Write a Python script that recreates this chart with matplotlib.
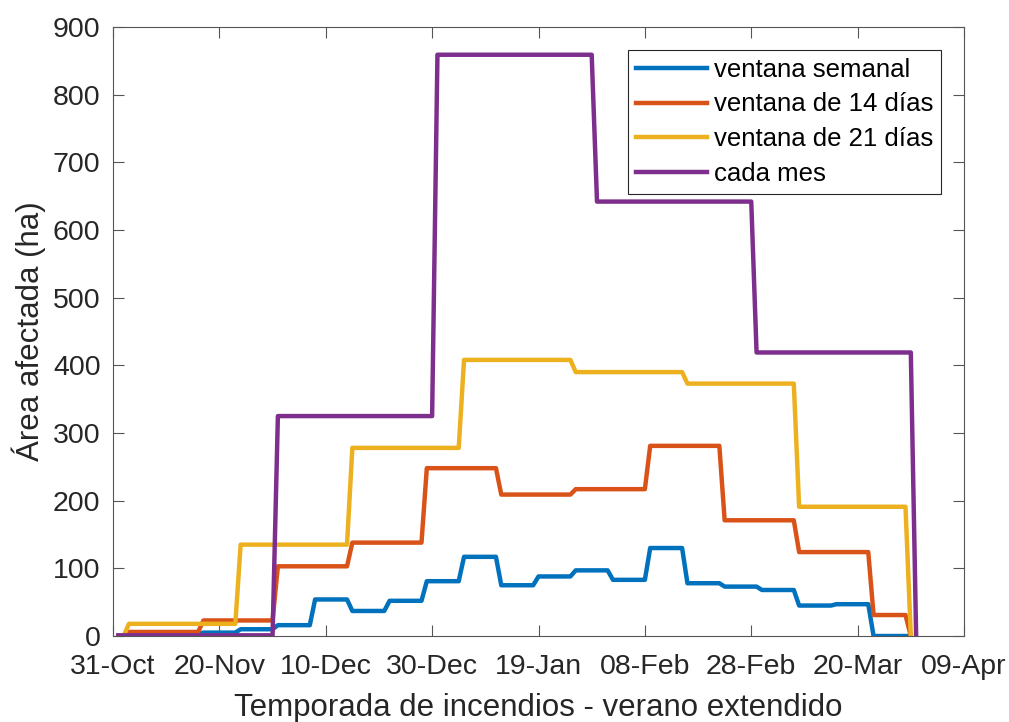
import numpy as np
import matplotlib
matplotlib.use("Agg")
import matplotlib.pyplot as plt
import matplotlib.dates as mdates
from datetime import datetime, timedelta

# area affected per aggregation window, as piecewise-constant levels
# (day on which each level starts, counted from 31-Oct, and its value in ha)
semanal_ini = [1, 3, 10, 17, 24, 31, 38, 45, 52, 59, 66, 73, 80, 87, 94, 101, 108, 115, 122, 129, 136, 143]
semanal_val = [0, 2, 3, 5, 10, 16, 54, 37, 52, 81, 117, 75, 88, 97, 83, 130, 78, 73, 68, 45, 47, 0]
semanal_fin = 151

quince_ini = [1, 3, 17, 31, 45, 59, 73, 87, 101, 115, 129, 143, 150]
quince_val = [0, 6, 23, 103, 138, 248, 209, 217, 281, 171, 124, 31, 0]
quince_fin = 151

veintiuno_ini = [1, 3, 24, 45, 66, 87, 108, 129, 150]
veintiuno_val = [0, 18, 135, 278, 408, 390, 373, 191, 0]
veintiuno_fin = 151

mes_ini = [1, 31, 61, 91, 121, 151]
mes_val = [1, 325, 859, 642, 419, 0]
mes_fin = 152

labels = ['ventana semanal', 'ventana de 14 días', 'ventana de 21 días', 'cada mes']
colors = ['#0072BD', '#D95319', '#EDB120', '#7E2F8E']

inicio = datetime(2018, 10, 31)


def expand(ini, val, fin):
    # daily series from the step levels
    n = np.diff(list(ini) + [fin])
    y = np.repeat(val, n)
    x = [inicio + timedelta(days=int(d)) for d in range(ini[0], fin)]
    return x, y


plt.rcParams['font.family'] = ['Liberation Sans', 'DejaVu Sans']
fig = plt.figure(figsize=(10.09, 7.22), dpi=100)
ax = fig.add_axes([113 / 1009, 1 - 636 / 722, 851 / 1009, 609 / 722])

series = [(semanal_ini, semanal_val, semanal_fin),
          (quince_ini, quince_val, quince_fin),
          (veintiuno_ini, veintiuno_val, veintiuno_fin),
          (mes_ini, mes_val, mes_fin)]
for (ini, val, fin), lab, col in zip(series, labels, colors):
    x, y = expand(ini, val, fin)
    ax.plot(x, y, color=col, lw=3.2, label=lab, solid_joinstyle='round')

ax.set_xlim(inicio, inicio + timedelta(days=160))
ax.set_ylim(0, 900)
ax.set_xticks([inicio + timedelta(days=d) for d in range(0, 161, 20)])
ax.xaxis.set_major_formatter(mdates.DateFormatter('%d-%b'))
ax.set_yticks(np.arange(0, 901, 100))

texto = '#262626'
for s in ax.spines.values():
    s.set_color('#555555')
    s.set_linewidth(0.8)
ax.tick_params(direction='in', length=8, width=0.8, colors='#555555',
               labelcolor=texto, top=True, right=True, labelsize=20.5)
ax.tick_params(axis='x', pad=13)
ax.tick_params(axis='y', pad=9)

ax.set_xlabel('Temporada de incendios - verano extendido', fontsize=22.5, color=texto, labelpad=9)
ax.set_ylabel('Área afectada (ha)', fontsize=22.5, color=texto, labelpad=5)

leg = ax.legend(loc='upper right', bbox_to_anchor=(941 / 1009, 1 - 50 / 722),
                bbox_transform=fig.transFigure, borderaxespad=0, fontsize=18.5,
                fancybox=False, framealpha=1, edgecolor='#262626',
                handlelength=2.8, handletextpad=0.25, labelspacing=0.42,
                borderpad=0.3)
leg.get_frame().set_linewidth(0.8)

fig.savefig('out.png', dpi=100)
